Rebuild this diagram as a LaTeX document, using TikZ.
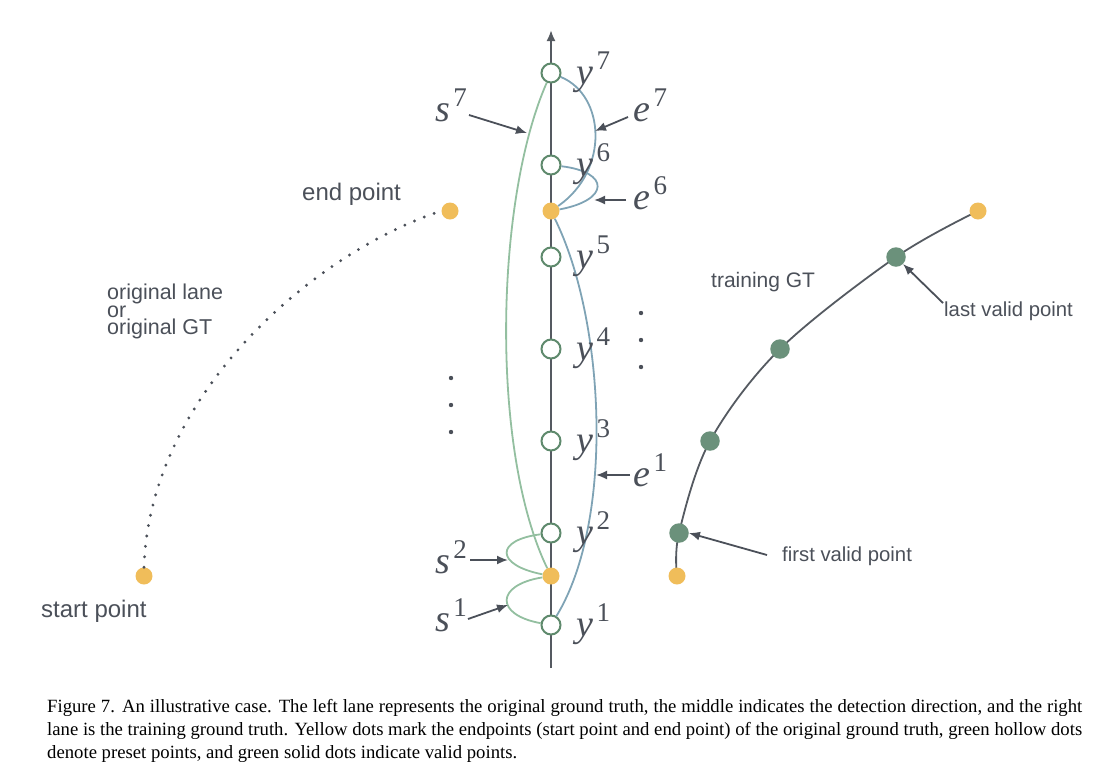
\documentclass[tikz,border=0pt]{standalone}
\usepackage{fontspec}
\setmainfont{Liberation Serif}
\newfontfamily\lsans{Liberation Sans}
\usetikzlibrary{arrows.meta}
\definecolor{tgray}{HTML}{4B5059}
\definecolor{axisgray}{HTML}{555A61}
\definecolor{ydot}{HTML}{F0BD5A}
\definecolor{gsolid}{HTML}{6B917B}
\definecolor{ghollow}{HTML}{5F8A6D}
\definecolor{gcurve}{HTML}{93BFA0}
\definecolor{bcurve}{HTML}{7FA3B5}
\newcommand\mlab[2]{\fontsize{38}{38}\selectfont\textit{#1}\kern3.5pt\raisebox{15pt}{\fontsize{27}{27}\selectfont #2}}
\begin{document}
\begin{tikzpicture}[x=1pt,y=-1pt,
  hollow/.style={circle,draw=ghollow,line width=2pt,fill=white,minimum size=19pt,inner sep=0pt},
  ydotst/.style={circle,fill=ydot,minimum size=17pt,inner sep=0pt},
  gdotst/.style={circle,fill=gsolid,minimum size=19.5pt,inner sep=0pt},
  mlabel/.style={anchor=base west,inner sep=0pt,text=tgray},
  slabel/.style={anchor=base west,inner sep=0pt,text=tgray,font=\lsans\fontsize{21}{17.5}\selectfont,align=left},
  annot/.style={draw=tgray,line width=1.8pt,-{Latex[length=11pt,width=9pt]}},
  gc/.style={draw=gcurve,line width=1.8pt},
  bc/.style={draw=bcurve,line width=1.8pt},
  vdot/.style={circle,fill=tgray,minimum size=4.4pt,inner sep=0pt},
  caption/.style={anchor=base west,inner sep=0pt,text=black,font=\fontsize{18.7}{23}\selectfont}
]
\useasboundingbox (0,0) rectangle (1114,772);

% axis
\coordinate (axbot) at (551,668);
\coordinate (axtop) at (551,30);
\draw[draw=axisgray,line width=2pt,-{Latex[length=11pt,width=9pt]}] (axbot) -- (axtop);

% preset points and endpoints on the axis
\node[hollow] (y7) at (551,73) {};
\node[hollow] (y6) at (551,165) {};
\node[hollow] (y5) at (551,257) {};
\node[hollow] (y4) at (551,349) {};
\node[hollow] (y3) at (551,441) {};
\node[hollow] (y2) at (551,533) {};
\node[hollow] (y1) at (551,625) {};
\node[ydotst] (pe) at (551,211) {};
\node[ydotst] (ps) at (551,576) {};

% curves
\draw[gc] (y7) .. controls (495,200) and (490,450) .. (ps);
\draw[gc] (y2) .. controls (495,540) and (495,565) .. (ps);
\draw[gc] (ps) .. controls (495,585) and (495,615) .. (y1);
\draw[bc] (pe) .. controls (605,320) and (615,520) .. (y1);
\draw[bc] (y7) .. controls (605,95) and (610,170) .. (pe);
\draw[bc] (y6) .. controls (610,172) and (610,200) .. (pe);

% y labels
\node[mlabel] (ly7) at (576,84) {\mlab{y}{7}};
\node[mlabel] (ly6) at (576,176) {\mlab{y}{6}};
\node[mlabel] (ly5) at (576,268) {\mlab{y}{5}};
\node[mlabel] (ly4) at (576,360) {\mlab{y}{4}};
\node[mlabel] (ly3) at (576,452) {\mlab{y}{3}};
\node[mlabel] (ly2) at (576,544) {\mlab{y}{2}};
\node[mlabel] (ly1) at (576,636) {\mlab{y}{1}};

% s / e labels with arrows
\node[mlabel] (ls7) at (435,121) {\mlab{s}{7}};
\node[mlabel] (le7) at (633,121) {\mlab{e}{7}};
\node[mlabel] (le6) at (633,209) {\mlab{e}{6}};
\node[mlabel] (le1) at (633,486) {\mlab{e}{1}};
\node[mlabel] (ls2) at (435,573) {\mlab{s}{2}};
\node[mlabel] (ls1) at (435,631) {\mlab{s}{1}};
\coordinate (as7a) at (469,115); \coordinate (as7b) at (527,133);
\coordinate (ae7a) at (628,117); \coordinate (ae7b) at (595,131);
\coordinate (ae6a) at (626,200); \coordinate (ae6b) at (594,200);
\coordinate (ae1a) at (630,475); \coordinate (ae1b) at (596,475);
\coordinate (as2a) at (470,560); \coordinate (as2b) at (508,560);
\coordinate (as1a) at (468,619); \coordinate (as1b) at (508,605);
\draw[annot] (as7a) -- (as7b);
\draw[annot] (ae7a) -- (ae7b);
\draw[annot] (ae6a) -- (ae6b);
\draw[annot] (ae1a) -- (ae1b);
\draw[annot] (as2a) -- (as2b);
\draw[annot] (as1a) -- (as1b);

% vertical ellipses
\node[vdot] (dl1) at (451,378) {};
\node[vdot] (dl2) at (451,405) {};
\node[vdot] (dl3) at (451,432) {};
\node[vdot] (dr1) at (641,313) {};
\node[vdot] (dr2) at (641,340) {};
\node[vdot] (dr3) at (641,367) {};

% left lane (original GT)
\node[ydotst] (ls) at (144,576) {};
\node[ydotst] (le) at (450,211) {};
\draw[draw=tgray,line width=3.2pt,line cap=round,dash pattern=on 0pt off 10.5pt]
  (ls.north) .. controls (150,390) and (320,250) .. (le.west);
\node[slabel,font=\lsans\fontsize{24}{24}\selectfont] (tend) at (302,200) {end point};
\node[slabel,font=\lsans\fontsize{24}{24}\selectfont] (tstart) at (41,617) {start point};
\node[anchor=north west,inner sep=0pt,text=tgray,font=\lsans\fontsize{21.5}{17.5}\selectfont,align=left] (torig) at (107,284) {original lane\\or\\original GT};

% right lane (training GT)
\coordinate (r0) at (677,576);
\coordinate (r1) at (679,533);
\coordinate (r2) at (710,441);
\coordinate (r3) at (780,349);
\coordinate (r4) at (896,257);
\coordinate (r5) at (978,211);
\draw[draw=axisgray,line width=1.8pt] plot[smooth,tension=0.55] coordinates {(r0) (r1) (r2) (r3) (r4) (r5)};
\node[ydotst] (rs) at (r0) {};
\node[ydotst] (re) at (r5) {};
\node[gdotst] (v1) at (r1) {};
\node[gdotst] (v2) at (r2) {};
\node[gdotst] (v3) at (r3) {};
\node[gdotst] (v4) at (r4) {};
\node[slabel] (ttrain) at (711,287) {training GT};
\node[slabel,font=\lsans\fontsize{20.3}{20}\selectfont] (tlast) at (944,316) {last valid point};
\node[slabel,font=\lsans\fontsize{20.3}{20}\selectfont] (tfirst) at (782,561) {first valid point};
\coordinate (alast) at (943,303);
\coordinate (afirst) at (767,555);
\draw[annot] (alast) -- (v4.south east);
\draw[annot] (afirst) -- (v1.east);

% caption
\node[caption] (cap1) at (47,712) {\makebox[1035pt][s]{Figure 7. An illustrative case. The left lane represents the original ground truth, the middle indicates the detection direction, and the right}};
\node[caption] (cap2) at (47,735) {\makebox[1035pt][s]{lane is the training ground truth. Yellow dots mark the endpoints (start point and end point) of the original ground truth, green hollow dots}};
\node[caption] (cap3) at (47,758) {denote preset points, and green solid dots indicate valid points.};
\end{tikzpicture}
\end{document}
